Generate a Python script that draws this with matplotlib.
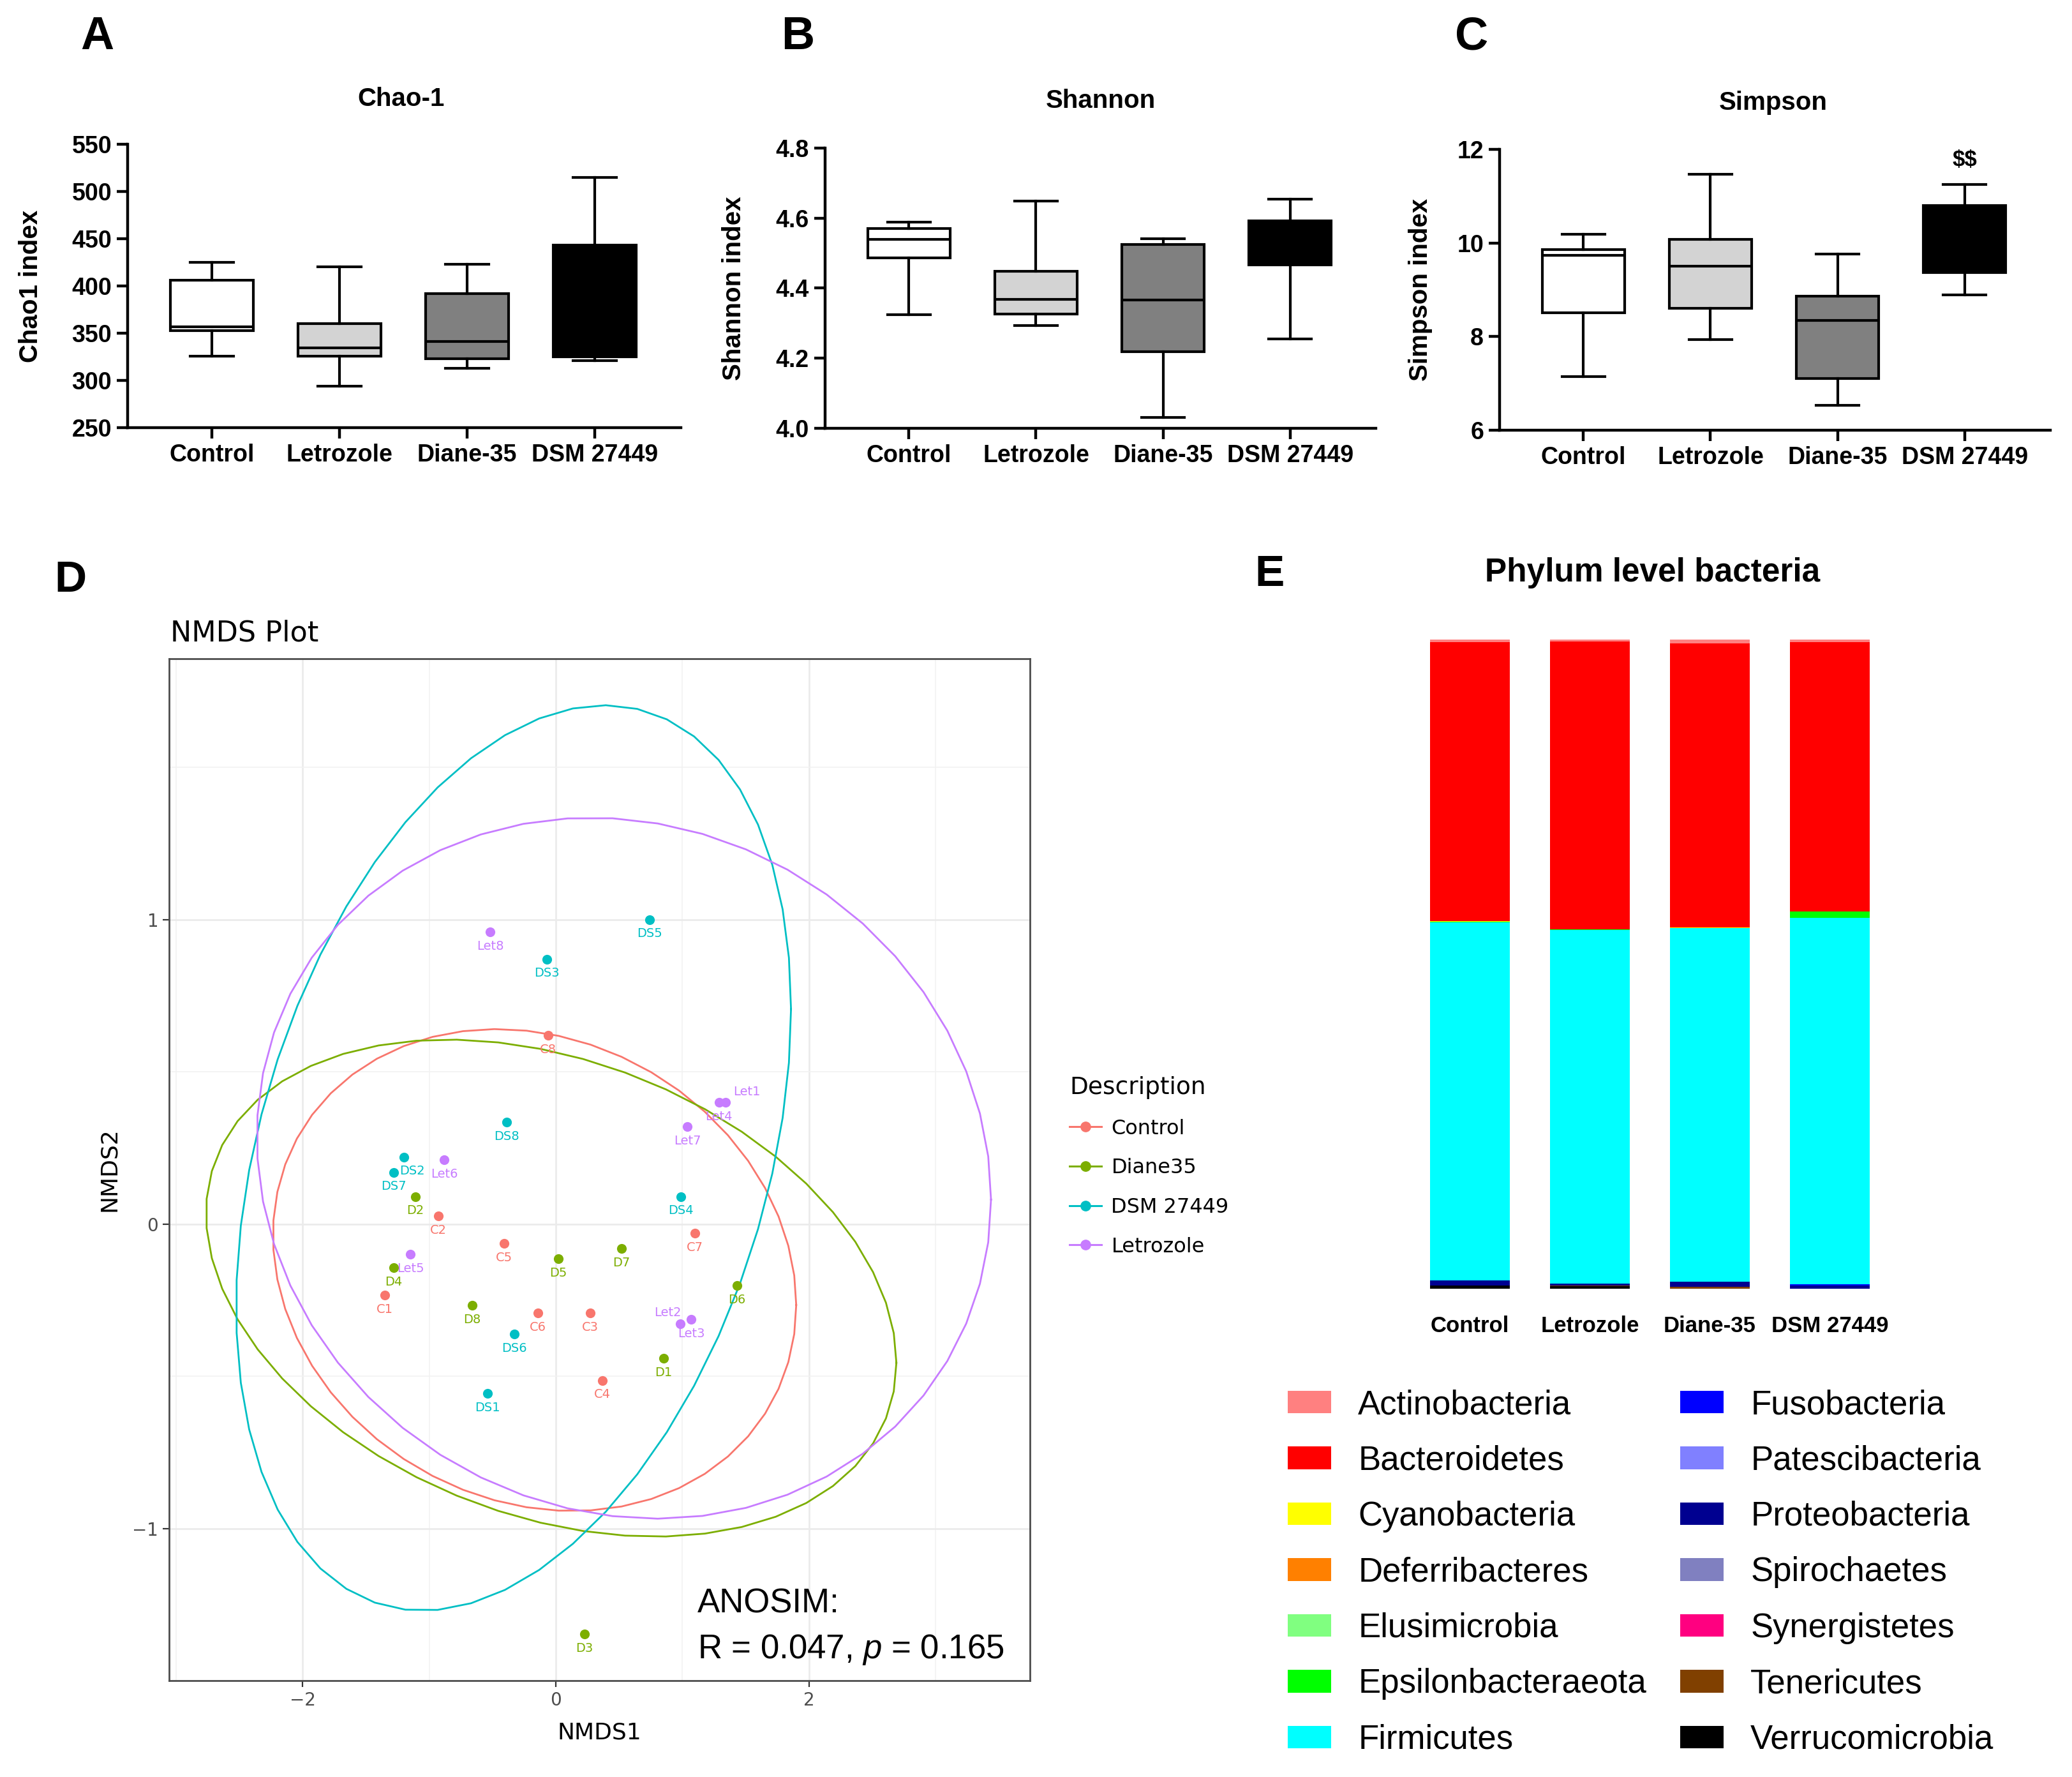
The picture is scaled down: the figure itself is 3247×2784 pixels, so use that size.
import numpy as np
import matplotlib
matplotlib.use("Agg")
import matplotlib.pyplot as plt
from matplotlib.lines import Line2D
from matplotlib.patches import Patch

plt.rcParams["mathtext.fontset"] = "custom"
plt.rcParams["mathtext.rm"] = "Liberation Sans"
plt.rcParams["mathtext.it"] = "Liberation Sans:italic"

# ---------------- data ----------------
groups_box = ["Control", "Letrozole", "Diane-35", "DSM 27449"]
box_fill = ["#FFFFFF", "#D3D3D3", "#808080", "#000000"]

chao_whislo = [326, 294, 313, 321]
chao_q1 = [353, 326, 323, 325]
chao_med = [357, 334.5, 341, 326]
chao_q3 = [406, 360, 392, 443]
chao_whishi = [425, 420, 423, 515]

shan_whislo = [4.325, 4.294, 4.031, 4.256]
shan_q1 = [4.487, 4.326, 4.218, 4.466]
shan_med = [4.540, 4.368, 4.366, 4.550]
shan_q3 = [4.571, 4.448, 4.525, 4.593]
shan_whishi = [4.589, 4.648, 4.542, 4.655]

simp_whislo = [7.14, 7.94, 6.53, 8.89]
simp_q1 = [8.51, 8.60, 7.11, 9.37]
simp_med = [9.73, 9.50, 8.35, 10.10]
simp_q3 = [9.86, 10.08, 8.86, 10.80]
simp_whishi = [10.18, 11.47, 9.77, 11.25]

# NMDS
nmds_groups = ["Control", "Diane35", "DSM 27449", "Letrozole"]
nmds_colors = ["#F8766D", "#7CAE00", "#00BFC4", "#C77CFF"]
ctrl_names = ["C1", "C2", "C3", "C4", "C5", "C6", "C7", "C8"]
ctrl_x = [-1.35, -0.93, 0.27, 0.37, -0.41, -0.14, 1.10, -0.06]
ctrl_y = [-0.234, 0.026, -0.293, -0.514, -0.064, -0.293, -0.030, 0.620]
dian_names = ["D1", "D2", "D3", "D4", "D5", "D6", "D7", "D8"]
dian_x = [0.85, -1.11, 0.226, -1.28, 0.02, 1.43, 0.52, -0.66]
dian_y = [-0.441, 0.090, -1.347, -0.144, -0.115, -0.203, -0.080, -0.267]
dsm_names = ["DS1", "DS2", "DS3", "DS4", "DS5", "DS6", "DS7", "DS8"]
dsm_x = [-0.54, -1.20, -0.07, 0.99, 0.74, -0.33, -1.28, -0.39]
dsm_y = [-0.556, 0.220, 0.870, 0.090, 1.000, -0.361, 0.170, 0.335]
let_names = ["Let1", "Let2", "Let3", "Let4", "Let5", "Let6", "Let7", "Let8"]
let_x = [1.34, 0.985, 1.07, 1.29, -1.15, -0.88, 1.04, -0.52]
let_y = [0.400, -0.328, -0.314, 0.400, -0.100, 0.210, 0.320, 0.960]

# Phylum composition (percent)
phyla = ["Actinobacteria", "Bacteroidetes", "Cyanobacteria", "Deferribacteres",
         "Elusimicrobia", "Epsilonbacteraeota", "Firmicutes", "Fusobacteria",
         "Patescibacteria", "Proteobacteria", "Spirochaetes", "Synergistetes",
         "Tenericutes", "Verrucomicrobia"]
phyla_colors = ["#FF8080", "#FF0000", "#FFFF00", "#FF8000", "#80FF80", "#00FF00",
                "#00FFFF", "#0000FF", "#8080FF", "#000090", "#8080C0", "#FF0080",
                "#804000", "#000000"]
comp_control = [0.40, 43.00, 0.10, 0, 0, 0.10, 55.10, 0, 0, 0.80, 0, 0, 0.05, 0.45]
comp_letrozole = [0.30, 44.30, 0.05, 0, 0, 0.05, 54.50, 0, 0, 0.35, 0, 0, 0.10, 0.35]
comp_diane = [0.60, 43.70, 0.10, 0, 0, 0.05, 54.45, 0, 0, 0.80, 0, 0, 0.30, 0.0]
comp_dsm = [0.35, 41.50, 0.05, 0, 0, 1.00, 56.40, 0.20, 0, 0.50, 0, 0, 0, 0.0]

# ---------------- figure ----------------
W, H, DPI = 3247, 2784, 100
fig = plt.figure(figsize=(W / DPI, H / DPI), dpi=DPI)
fig.patch.set_facecolor("white")

ARIAL = ["Liberation Sans", "DejaVu Sans"]
GG = ["DejaVu Sans"]


def px_axes(l, t, r, b):
    return fig.add_axes([l / W, 1 - b / H, (r - l) / W, (b - t) / H])


def ftext(x, y, s, **kw):
    return fig.text(x / W, 1 - y / H, s, **kw)


def box_panel(rect, wlo, q1, med, q3, whi, ylim, yticks, fmt, title, title_x, title_y,
              ylabel, ylab_x, letter, letter_x):
    ax = px_axes(*rect)
    stats = [dict(whislo=a, q1=b, med=c, q3=d, whishi=e)
             for a, b, c, d, e in zip(wlo, q1, med, q3, whi)]
    lw = 3.0
    bp = ax.bxp(stats, positions=range(4), widths=0.65, patch_artist=True,
                showfliers=False, capwidths=0.34,
                boxprops=dict(linewidth=lw, edgecolor="black"),
                medianprops=dict(color="black", linewidth=lw, solid_capstyle="butt"),
                whiskerprops=dict(linewidth=lw, color="black"),
                capprops=dict(linewidth=lw, color="black"))
    for p, fc in zip(bp["boxes"], box_fill):
        p.set_facecolor(fc)
        p.set_joinstyle("miter")
    ax.set_xlim(-0.66, 3.675)
    ax.set_ylim(*ylim)
    ax.set_yticks(yticks)
    ax.set_yticklabels([fmt.format(v) for v in yticks])
    ax.set_xticks(range(4))
    ax.set_xticklabels(groups_box)
    for s in ["top", "right"]:
        ax.spines[s].set_visible(False)
    for s in ["left", "bottom"]:
        ax.spines[s].set_linewidth(3.2)
    ax.tick_params(direction="out", length=12, width=3.2, pad=6)
    for lab in ax.get_yticklabels():
        lab.set_family(ARIAL)
        lab.set_fontweight("bold")
        lab.set_fontsize(27)
    for lab in ax.get_xticklabels():
        lab.set_family(ARIAL)
        lab.set_fontweight("bold")
        lab.set_fontsize(27)
    ax.patch.set_alpha(0)
    ftext(title_x, title_y, title, ha="center", va="center", family=ARIAL,
          fontweight="bold", fontsize=29)
    ftext(ylab_x, (rect[1] + rect[3]) / 2, ylabel, ha="center", va="center", rotation=90,
          family=ARIAL, fontweight="bold", fontsize=29)
    ftext(letter_x, 58, letter, ha="center", va="center", family=ARIAL,
          fontweight="bold", fontsize=52)
    return ax


axA = box_panel((200, 226, 1067, 670), chao_whislo, chao_q1, chao_med, chao_q3, chao_whishi,
                (250, 550), [250, 300, 350, 400, 450, 500, 550], "{:.0f}",
                "Chao-1", 629, 155, "Chao1 index", 48, "A", 152)
axB = box_panel((1293, 232, 2156, 671), shan_whislo, shan_q1, shan_med, shan_q3, shan_whishi,
                (4.0, 4.8), [4.0, 4.2, 4.4, 4.6, 4.8], "{:.1f}",
                "Shannon", 1725, 158, "Shannon index", 1150, "B", 1250)
axC = box_panel((2350, 234, 3213, 674), simp_whislo, simp_q1, simp_med, simp_q3, simp_whishi,
                (6, 12), [6, 8, 10, 12], "{:.0f}",
                "Simpson", 2779, 161, "Simpson index", 2226, "C", 2306)
axC.text(3, simp_whishi[3] + 0.3, r"\$\$", ha="center", va="bottom", family=ARIAL,
         fontweight="bold", fontsize=25)

# ---------------- D: NMDS ----------------
axD = px_axes(265, 1032, 1614, 2633)
axD.set_xlim(-3.056, 3.747)
axD.set_ylim(-1.499, 1.857)
axD.set_xticks([-2, 0, 2])
axD.set_xticklabels(["\u22122", "0", "2"])
axD.set_yticks([-1, 0, 1])
axD.set_yticklabels(["\u22121", "0", "1"])
axD.set_xticks([-3, -1, 1, 3], minor=True)
axD.set_yticks([-1.5, -0.5, 0.5, 1.5], minor=True)
axD.grid(True, which="major", color="#EBEBEB", linewidth=2.0)
axD.grid(True, which="minor", color="#F2F2F2", linewidth=1.2)
axD.set_axisbelow(True)
for s in axD.spines.values():
    s.set_color("#4D4D4D")
    s.set_linewidth(2.0)
axD.tick_params(which="major", direction="out", length=7, width=1.6, color="#333333",
                labelsize=20, labelcolor="#4D4D4D", pad=5)
axD.tick_params(which="minor", length=0)
for lab in axD.get_xticklabels() + axD.get_yticklabels():
    lab.set_family(GG)
axD.set_xlabel("NMDS1", fontsize=26, family=GG, labelpad=14)
axD.set_ylabel("NMDS2", fontsize=26, family=GG, labelpad=14)
ftext(267, 992, "NMDS Plot", ha="left", va="center", fontsize=32, family=GG)


def cov_trob(x, nu=5, maxit=25, tol=0.01):
    n, p = x.shape
    wt = np.ones(n)
    loc = (wt[:, None] * x).sum(0) / wt.sum()
    w = np.sqrt(wt)
    X = x - loc
    for _ in range(maxit):
        w0 = w
        X = x - loc
        _, d, vt = np.linalg.svd(np.sqrt(w / w.sum())[:, None] * X, full_matrices=False)
        wX = X @ vt.T @ np.diag(1.0 / d)
        Q = (wX ** 2).sum(1)
        w = (wt * (nu + p)) / (nu + Q)
        loc = (w[:, None] * x).sum(0) / w.sum()
        if np.all(np.abs(w - w0) < tol):
            break
    sw = np.sqrt(w)[:, None] * X
    cov = sw.T @ sw / wt.sum()
    return loc, cov


def t_ellipse(xs, ys, level=0.95, segments=51):
    pts = np.column_stack([xs, ys])
    n = len(xs)
    center, shape = cov_trob(pts)
    dfn, dfd = 2, n - 1
    qf = (dfd / 2.0) * ((1 - level) ** (-2.0 / dfd) - 1)
    radius = np.sqrt(dfn * qf)
    ang = np.arange(segments + 1) * 2 * np.pi / segments
    circ = np.column_stack([np.cos(ang), np.sin(ang)])
    R = np.linalg.cholesky(shape).T
    e = center + radius * (circ @ R)
    return e[:, 0], e[:, 1]


label_nudge = {"Let1": (24, 12), "Let2": (-14, 13), "DS2": (9, -16)}
group_data = [(ctrl_names, ctrl_x, ctrl_y), (dian_names, dian_x, dian_y),
              (dsm_names, dsm_x, dsm_y), (let_names, let_x, let_y)]
for (names, xs, ys), col in zip(group_data, nmds_colors):
    axD.scatter(xs, ys, s=120, color=col, zorder=3, linewidths=0)
    for nm, x, y in zip(names, xs, ys):
        dx, dy = label_nudge.get(nm, (0, -16))
        axD.annotate(nm, (x, y), xytext=(dx, dy), textcoords="offset points",
                     ha="center", va="center", fontsize=14, color=col, family=GG, zorder=3)
    ex, ey = t_ellipse(np.array(xs), np.array(ys))
    axD.plot(ex, ey, color=col, linewidth=2.0, zorder=2)

axD.text(1.12, -1.247, "ANOSIM:", ha="left", va="center", fontsize=38, family=ARIAL)
axD.text(1.12, -1.398, r"R = 0.047, $\it{p}$ = 0.165", ha="left", va="center", fontsize=38,
         family=ARIAL)

nmds_handles = [Line2D([0], [0], color=c, marker="o", markersize=11, linewidth=2.2)
                for c in nmds_colors]
legD = fig.legend(nmds_handles, nmds_groups, title="Description", loc="upper left",
                  bbox_to_anchor=(1676 / W, 1 - 1686 / H), frameon=False, borderpad=0,
                  borderaxespad=0, handlelength=1.55,
                  handletextpad=0.5, labelspacing=0.96, alignment="left",
                  prop={"family": GG, "size": 23})
legD.get_title().set_family(GG)
legD.get_title().set_fontsize(27)

# ---------------- E: phylum stacked bars ----------------
axE = px_axes(2209.5, 1002, 2961.5, 2019)
comps = np.array([comp_control, comp_letrozole, comp_diane, comp_dsm])
comps = comps / comps.sum(1, keepdims=True) * 100
bottom = np.zeros(4)
for j in range(len(phyla) - 1, -1, -1):
    axE.bar(range(4), comps[:, j], bottom=bottom, width=0.665, color=phyla_colors[j],
            edgecolor="none", linewidth=0)
    bottom += comps[:, j]
axE.set_xlim(-0.5, 3.5)
axE.set_ylim(0, 100)
axE.set_yticks([])
axE.set_xticks(range(4))
axE.set_xticklabels(groups_box)
axE.tick_params(axis="x", length=0, pad=30)
for lab in axE.get_xticklabels():
    lab.set_family(ARIAL)
    lab.set_fontweight("bold")
    lab.set_fontsize(25)
for s in axE.spines.values():
    s.set_visible(False)
ftext(2590, 897, "Phylum level bacteria", ha="center", va="center", family=ARIAL,
      fontweight="bold", fontsize=37)
ftext(1990, 900, "E", ha="center", va="center", family=ARIAL, fontweight="bold", fontsize=50)
ftext(110, 909, "D", ha="center", va="center", family=ARIAL, fontweight="bold", fontsize=50)

phy_handles = [Patch(facecolor=c, edgecolor="none") for c in phyla_colors]
legE = fig.legend(phy_handles, phyla, loc="upper left", ncol=2,
                  bbox_to_anchor=(2018 / W, 1 - 2176 / H), frameon=False, borderpad=0,
                  borderaxespad=0, handlelength=1.29, handleheight=0.66,
                  handletextpad=0.8, columnspacing=1.0, labelspacing=0.71,
                  prop={"family": ARIAL, "size": 38})

fig.savefig("out.png", dpi=DPI, facecolor="white")
